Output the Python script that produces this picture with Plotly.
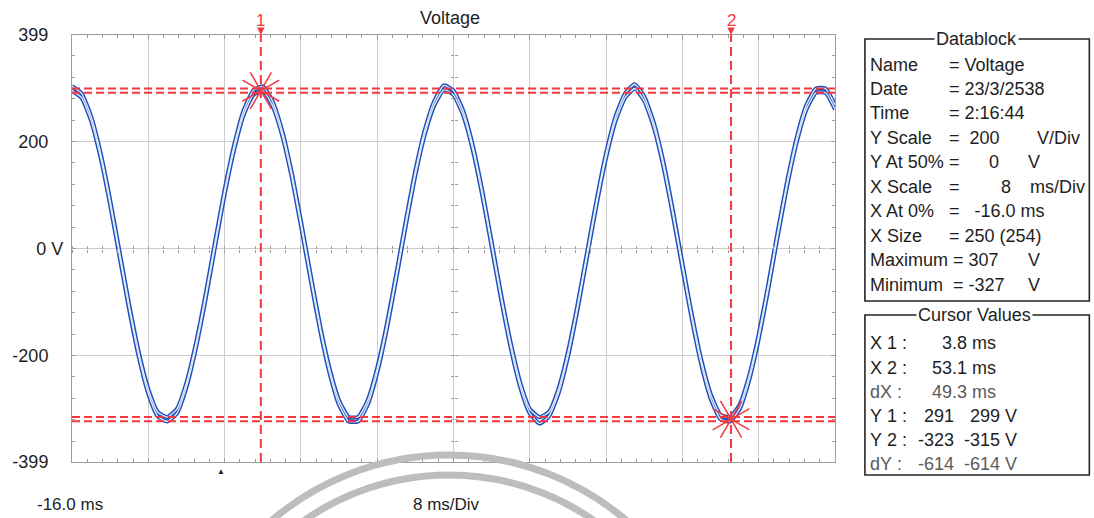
import plotly.graph_objects as go

# ---------------- data ----------------
time_ms = [-16, -15, -14, -13, -12, -11, -10, -9, -8, -7, -6, -5, -4, -3, -2, -1,
           0, 1, 2, 3, 4, 5, 6, 7, 8, 9, 10, 11, 12, 13, 14, 15, 16, 17, 18, 19,
           20, 21, 22, 23, 24, 25, 26, 27, 28, 29, 30, 31, 32, 33, 34, 35, 36, 37,
           38, 39, 40, 41, 42, 43, 44, 45, 46, 47, 48, 49, 50, 51, 52, 53, 54, 55,
           56, 57, 58, 59, 60, 61, 62, 63, 64]

volt_max = [303, 290, 247, 178, 90, -8, -106, -194, -263, -306, -315, -300, -251, -177, -87, 12,
            109, 193, 258, 295, 303, 276, 222, 145, 51, -48, -143, -224, -284, -315, -315, -284,
            -224, -143, -48, 51, 145, 222, 276, 305, 295, 258, 194, 109, 12, -87, -177, -251,
            -300, -315, -306, -263, -194, -106, -8, 90, 178, 247, 290, 307, 284, 235, 162, 71,
            -28, -125, -210, -274, -311, -315, -292, -238, -161, -68, 32, 127, 208, 268, 299, 299,
            268]

volt_min = [295, 282, 239, 170, 82, -16, -114, -202, -271, -314, -323, -308, -259, -185, -95, 4,
            101, 185, 250, 287, 295, 268, 214, 137, 43, -56, -151, -232, -292, -323, -323, -292,
            -232, -151, -56, 43, 137, 214, 268, 297, 287, 250, 186, 101, 4, -95, -185, -259,
            -308, -327, -314, -271, -202, -114, -16, 82, 170, 239, 282, 299, 276, 227, 154, 63,
            -36, -133, -218, -282, -319, -323, -300, -246, -169, -76, 24, 119, 200, 260, 291, 291,
            260]

cursor_x = [3.8, 53.1]
cursor_y1 = [291, 299]
cursor_y2 = [-323, -315]
cursor_labels = ["1", "2"]

y_tickvals = [-399, -200, 0, 200, 399]
y_ticktext = ["-399", "-200", "0 V", "200", "399"]

db_labels = ["Name", "Date", "Time", "Y Scale", "Y At 50%", "X Scale",
             "X At 0%", "X Size", "Maximum", "Minimum"]
db_values = ["= Voltage", "= 23/3/2538", "= 2:16:44", "=  200", "=", "=",
             "=   -16.0 ms", "= 250 (254)", "= 307", "= -327"]
db_nums = ["", "", "", "", "0", "8", "", "", "", ""]
db_units = ["", "", "", "V/Div", "V", "ms/Div", "", "", "V", "V"]

cv_labels = ["X 1 :", "X 2 :", "dX :", "Y 1 :", "Y 2 :", "dY :"]
cv_a = ["", "", "", "291", "-323", "-614"]
cv_b = ["3.8 ms", "53.1 ms", "49.3 ms", "299 V", "-315 V", "-614 V"]

# ---------------- geometry helpers (pixel -> paper) ----------------
W, H = 1094, 518
L, R, T, B = 70, 835, 35, 462


def px(x):
    return (x - L) / (R - L)


def py(y):
    return (B - y) / (B - T)


FONT = "Liberation Sans, Arial, sans-serif"
TXT = "#1e1e1e"
RED = "#f2393f"
BLUE = "#2150b8"
GRID = "#cdcdcd"
FRAME = "#9c9c9c"

fig = go.Figure()

# waveform: two envelope traces drawn as outlined blue lines
for series in (volt_max, volt_min):
    fig.add_trace(go.Scatter(x=time_ms, y=series, mode="lines",
                             line=dict(color=BLUE, width=4.2, shape="spline", smoothing=0.5),
                             hoverinfo="skip", showlegend=False))
for series in (volt_max, volt_min):
    fig.add_trace(go.Scatter(x=time_ms, y=series, mode="lines",
                             line=dict(color="#e6edfa", width=1.3, shape="spline", smoothing=0.5),
                             hoverinfo="skip", showlegend=False))

# cursor crossing markers
mark_y = [sum(cursor_y1) / 2, sum(cursor_y2) / 2]
for ang in (15, -15):
    fig.add_trace(go.Scatter(x=cursor_x, y=mark_y, mode="markers",
                             marker=dict(symbol="x-thin-open", size=30, angle=ang, color=RED,
                                         line=dict(color=RED, width=1.5)),
                             hoverinfo="skip", showlegend=False, cliponaxis=False))

# dummy traces to host the centre-line tick axes
fig.add_trace(go.Scatter(x=[None], y=[None], xaxis="x2", yaxis="y2", showlegend=False))
fig.add_trace(go.Scatter(x=[None], y=[None], xaxis="x3", yaxis="y3", showlegend=False))

shapes = []
# cursor lines
for cx in cursor_x:
    shapes.append(dict(type="line", xref="x", yref="paper", x0=cx, x1=cx, y0=0, y1=1,
                       line=dict(color=RED, width=2, dash="9px,5px"), layer="above"))
for cy in cursor_y1 + cursor_y2:
    shapes.append(dict(type="line", xref="paper", yref="y", x0=0, x1=1, y0=cy, y1=cy,
                       line=dict(color=RED, width=2, dash="8px,4px"), layer="above"))

# panels
shapes.append(dict(type="rect", xref="paper", yref="paper", x0=px(865), x1=px(1090),
                   y0=py(301), y1=py(39), line=dict(color="#262626", width=1.6)))
shapes.append(dict(type="rect", xref="paper", yref="paper", x0=px(865), x1=px(1090),
                   y0=py(475), y1=py(315), line=dict(color="#262626", width=1.6)))

# watermark arcs of the scanned page
for rad in (274, 254):
    shapes.append(dict(type="circle", xref="paper", yref="paper",
                       x0=px(448 - rad), x1=px(448 + rad), y0=py(729 + rad), y1=py(729 - rad),
                       line=dict(color="#bdbdbd", width=7), fillcolor="rgba(0,0,0,0)",
                       layer="above"))

ann = []


def text_at(text, x, y, size=18, color=TXT, xanchor="center", **kw):
    d = dict(text=text, x=px(x), y=py(y), xref="paper", yref="paper", showarrow=False,
             xanchor=xanchor, yanchor="middle", font=dict(size=size, color=color, family=FONT))
    d.update(kw)
    ann.append(d)


# title
text_at("Voltage", 449, 18)
# cursor numbers with arrows
for cx, lab in zip(cursor_x, cursor_labels):
    ann.append(dict(text=lab, x=cx, xref="x", y=1, yref="paper", showarrow=True,
                    ax=0, ay=-15, arrowhead=2, arrowsize=1, arrowwidth=1.5,
                    arrowcolor=RED, standoff=0, font=dict(size=17, color=RED, family=FONT)))
# trigger mark
ann.append(dict(text="▲", x=-0.4, xref="x", y=0, yref="paper", yanchor="top", yshift=-1,
                showarrow=False, font=dict(size=8, color="#222")))
# bottom texts
text_at("-16.0 ms", 68, 505, size=17)
text_at("8 ms/Div", 445, 505, size=17)

# Datablock
text_at("Datablock", 977, 39, bgcolor="white", borderpad=1)
row_y = [65, 89, 113, 138, 162, 187, 211, 236, 260, 285]
unit_x = {"V/Div": 1036, "V": 1027, "ms/Div": 1029}
for i, lab in enumerate(db_labels):
    yy = row_y[i]
    text_at(lab, 868, yy, xanchor="left")
    vx = 951 if lab.startswith("M") else 947
    text_at(db_values[i].replace(" ", "\u00a0"), vx, yy, xanchor="left")
    if db_nums[i]:
        text_at(db_nums[i], 1001 if db_nums[i] == "0" else 1013, yy, xanchor="right")
    if db_units[i]:
        text_at(db_units[i], unit_x[db_units[i]], yy, xanchor="left")

# Cursor values
text_at("Cursor Values", 975, 315, bgcolor="white", borderpad=1)
cv_y = [343, 368, 392, 416, 440, 464]
for i, lab in enumerate(cv_labels):
    yy = cv_y[i]
    col = "#5a5a5a" if lab.startswith("d") else TXT
    text_at(lab.replace(" ", "\u00a0"), 868, yy, color=col, xanchor="left")
    if cv_a[i]:
        text_at(cv_a[i], 956, yy, color=col, xanchor="right")
        text_at(cv_b[i], 1019, yy, color=col, xanchor="right")
    else:
        text_at(cv_b[i], 998, yy, color=col, xanchor="right")

pad = "\u00a0\u00a0\u00a0"
ytext = [t if t == "0 V" else t + pad for t in y_ticktext]

fig.update_layout(
    width=W, height=H,
    margin=dict(l=L, r=W - R, t=T, b=H - B, pad=0),
    paper_bgcolor="white", plot_bgcolor="white",
    showlegend=False,
    shapes=shapes, annotations=ann,
    xaxis=dict(range=[-16, 64], tickmode="linear", tick0=-16, dtick=8,
               showticklabels=False, showgrid=True, gridcolor=GRID, gridwidth=1,
               zeroline=False, showline=True, linecolor=FRAME, linewidth=1,
               mirror="allticks", ticks="inside", ticklen=4, tickcolor=FRAME,
               minor=dict(ticks="inside", ticklen=3, tick0=-16, dtick=1.6,
                          tickcolor=FRAME, showgrid=False)),
    yaxis=dict(range=[-399, 399], tickmode="array", tickvals=y_tickvals, ticktext=ytext,
               tickfont=dict(size=18, color=TXT, family=FONT),
               showgrid=True, gridcolor=GRID, gridwidth=1, zeroline=False,
               showline=True, linecolor=FRAME, linewidth=1, mirror="allticks",
               ticks="inside", ticklen=4, tickcolor=FRAME, ticklabelstandoff=4,
               minor=dict(ticks="inside", ticklen=3, tick0=0, dtick=40,
                          tickcolor=FRAME, showgrid=False)),
    xaxis2=dict(range=[-16, 64], overlaying="x", anchor="free", position=0.5, side="bottom",
                tickmode="linear", tick0=-16, dtick=1.6, ticks="outside", ticklen=3,
                tickcolor=FRAME, showticklabels=False, showgrid=False, zeroline=False,
                showline=False),
    xaxis3=dict(range=[-16, 64], overlaying="x", anchor="free", position=0.5, side="top",
                tickmode="linear", tick0=-16, dtick=1.6, ticks="outside", ticklen=3,
                tickcolor=FRAME, showticklabels=False, showgrid=False, zeroline=False,
                showline=False),
    yaxis2=dict(range=[-399, 399], overlaying="y", anchor="free", position=0.5, side="left",
                tickmode="linear", tick0=0, dtick=40, ticks="outside", ticklen=3,
                tickcolor=FRAME, showticklabels=False, showgrid=False, zeroline=False,
                showline=False),
    yaxis3=dict(range=[-399, 399], overlaying="y", anchor="free", position=0.5, side="right",
                tickmode="linear", tick0=0, dtick=40, ticks="outside", ticklen=3,
                tickcolor=FRAME, showticklabels=False, showgrid=False, zeroline=False,
                showline=False),
)

fig.write_html("out.html")
